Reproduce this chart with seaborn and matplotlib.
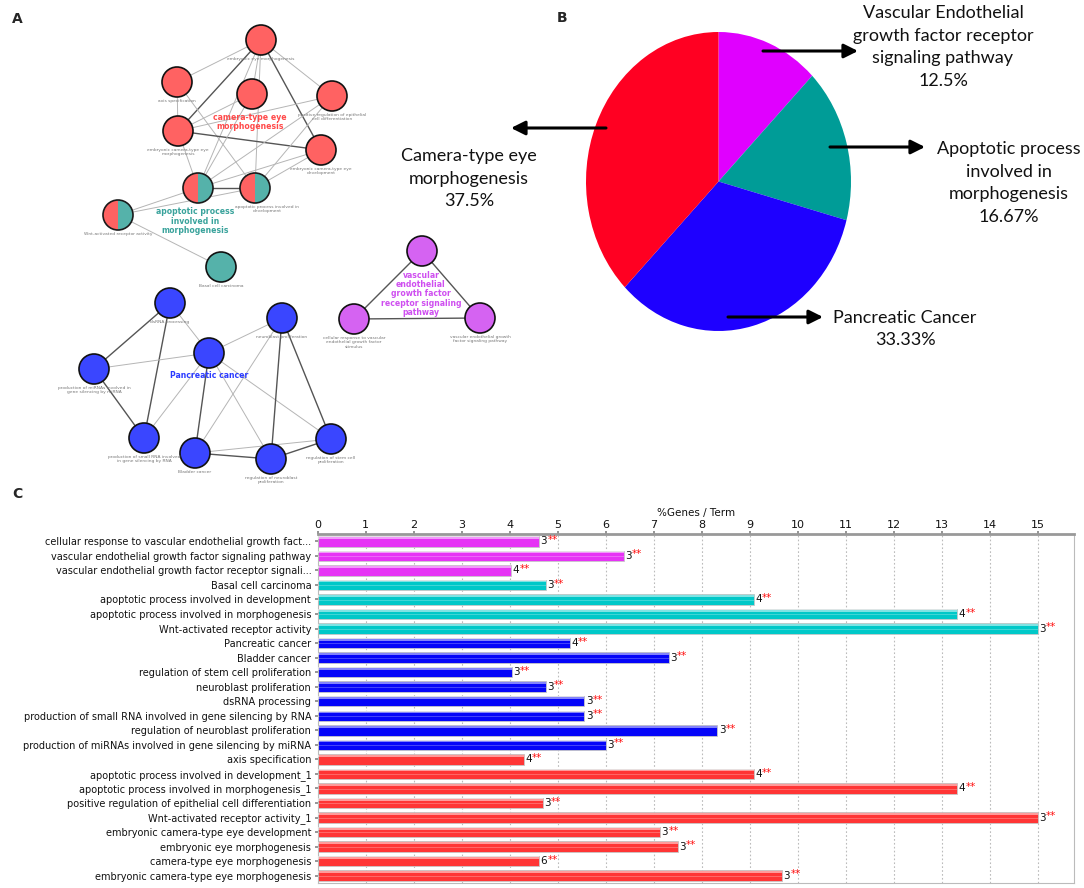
import numpy as np
import pandas as pd
import matplotlib
matplotlib.use("Agg")
import matplotlib.pyplot as plt
from matplotlib.patches import Circle, Wedge
import seaborn as sns

sns.set_theme(style="white")
plt.rcParams["font.family"] = ["DejaVu Sans"]

# ---------------- panel C: %genes / term ----------------
terms = [
    "cellular response to vascular endothelial growth fact...",
    "vascular endothelial growth factor signaling pathway",
    "vascular endothelial growth factor receptor signali...",
    "Basal cell carcinoma",
    "apoptotic process involved in development",
    "apoptotic process involved in morphogenesis",
    "Wnt-activated receptor activity",
    "Pancreatic cancer",
    "Bladder cancer",
    "regulation of stem cell proliferation",
    "neuroblast proliferation",
    "dsRNA processing",
    "production of small RNA involved in gene silencing by RNA",
    "regulation of neuroblast proliferation",
    "production of miRNAs involved in gene silencing by miRNA",
    "axis specification",
    "apoptotic process involved in development_1",
    "apoptotic process involved in morphogenesis_1",
    "positive regulation of epithelial cell differentiation",
    "Wnt-activated receptor activity_1",
    "embryonic camera-type eye development",
    "embryonic eye morphogenesis",
    "camera-type eye morphogenesis",
    "embryonic camera-type eye morphogenesis",
]
pct = [4.62, 6.38, 4.04, 4.76, 9.09, 13.33, 15.0, 5.26, 7.32, 4.05, 4.76, 5.56,
       5.56, 8.33, 6.0, 4.30, 9.09, 13.33, 4.69, 15.0, 7.14, 7.50, 4.62, 9.68]
genes = [3, 3, 4, 3, 4, 4, 3, 4, 3, 3, 3, 3, 3, 3, 3, 4, 4, 4, 3, 3, 3, 3, 6, 3]
groups = ["vegf"] * 3 + ["apop"] * 4 + ["panc"] * 8 + ["cam"] * 9
bar_colors = {"vegf": "#E633F5", "apop": "#00C8C8", "panc": "#0505F8", "cam": "#FF3535"}

# ---------------- panel B: pie ----------------
pie_names = ["vegf", "apop", "panc", "cam"]
pie_share = [12.5, 16.67, 33.33, 37.5]
pie_colors = ["#E000FF", "#009C97", "#1E00FF", "#FF0022"]

# ---------------- panel A: network (node layout, pixel units) ----------------
node_x = [261, 177, 252, 332, 178, 321, 198, 255, 118, 221,
          422, 354, 480, 170, 282, 209, 94, 144, 195, 271, 331]
node_y = [40, 82, 94, 96, 131, 150, 188, 188, 215, 267,
          251, 319, 318, 303, 318, 353, 369, 438, 453, 459, 439]
node_grp = ["cam", "cam", "cam", "cam", "cam", "cam", "split", "split", "split", "apop",
            "vegf", "vegf", "vegf", "panc", "panc", "panc", "panc", "panc", "panc", "panc", "panc"]
node_text = [
    "embryonic eye morphogenesis", "axis specification", "",
    "positive regulation of epithelial\ncell differentiation",
    "embryonic camera-type eye\nmorphogenesis",
    "embryonic camera-type eye\ndevelopment", "",
    "apoptotic process involved in\ndevelopment",
    "Wnt-activated receptor activity", "Basal cell carcinoma", "",
    "cellular response to vascular\nendothelial growth factor\nstimulus",
    "vascular endothelial growth\nfactor signaling pathway",
    "dsRNA processing", "neuroblast proliferation", "",
    "production of miRNAs involved in\ngene silencing by miRNA",
    "production of small RNA involved\nin gene silencing by RNA",
    "Bladder cancer", "regulation of neuroblast\nproliferation",
    "regulation of stem cell\nproliferation",
]
node_text_dx = [0, 0, 0, 0, 0, 0, 0, 12, 0, 0, 0, 0, 0, 0, 0, 0, 0, 0, 0, 0, 0]
edges = [(0, 1), (0, 4), (0, 2), (0, 3), (0, 5), (0, 6), (0, 7), (1, 4), (1, 7),
         (4, 5), (4, 3), (4, 2), (2, 6), (3, 6), (3, 7), (5, 6), (5, 7), (4, 6),
         (6, 7), (6, 8), (7, 8), (8, 9), (10, 11), (10, 12), (11, 12),
         (13, 16), (13, 17), (13, 15), (16, 15), (16, 17), (15, 17), (15, 18),
         (15, 19), (15, 20), (14, 15), (14, 18), (14, 19), (14, 20), (18, 19),
         (18, 20), (19, 20)]
edge_dark = [0, 1, 0, 0, 1, 0, 0, 0, 0, 1, 0, 0, 0, 0, 0, 0, 0, 0,
             1, 0, 0, 0, 1, 1, 1, 1, 1, 0, 0, 1, 0, 1, 0, 0, 0, 0, 1, 1, 1, 0, 1]
node_colors = {"cam": "#FF6262", "apop": "#55B2AA", "vegf": "#D563F2", "panc": "#3A46FF"}
cluster_labels = ["camera-type eye\nmorphogenesis",
                  "apoptotic process\ninvolved in\nmorphogenesis",
                  "vascular\nendothelial\ngrowth factor\nreceptor signaling\npathway",
                  "Pancreatic cancer"]
cluster_x = [250, 195, 421, 209]
cluster_y = [122, 221, 294, 375]
cluster_col = ["#FF4A4A", "#3AA39C", "#CF4FF0", "#2B3BFF"]

W, H = 1084, 888
fig = plt.figure(figsize=(W / 100, H / 100), dpi=100)


def box(l, t, r, b):
    return [l / W, 1 - b / H, (r - l) / W, (b - t) / H]


# ---- A
axa = fig.add_axes(box(0, 0, 540, 480))
axa.set_xlim(0, 540); axa.set_ylim(480, 0); axa.set_aspect("equal"); axa.axis("off")
for (a, b), d in zip(edges, edge_dark):
    axa.plot([node_x[a], node_x[b]], [node_y[a], node_y[b]],
             color="#555555" if d else "#B5B5B5", lw=1.0 if d else 0.7, zorder=1)
r = 15
for x, y, g, t, dx in zip(node_x, node_y, node_grp, node_text, node_text_dx):
    if g == "split":
        axa.add_patch(Wedge((x, y), r, 90, 270, facecolor=node_colors["cam"], lw=0, zorder=2))
        axa.add_patch(Wedge((x, y), r, 270, 90, facecolor=node_colors["apop"], lw=0, zorder=2))
        axa.add_patch(Circle((x, y), r, facecolor="none", edgecolor="#1a1a1a", lw=1.2, zorder=3))
    else:
        axa.add_patch(Circle((x, y), r, facecolor=node_colors[g], edgecolor="#111111",
                             lw=1.2, zorder=2))
    if t:
        axa.text(x + dx, y + r + 2, t, fontsize=3.2, color="#777777", ha="center", va="top",
                 linespacing=1.1, zorder=4)
for t, x, y, c in zip(cluster_labels, cluster_x, cluster_y, cluster_col):
    axa.text(x, y, t, fontsize=5.6, fontweight="bold", color=c, ha="center", va="center",
             linespacing=1.05, zorder=5)

# ---- B
axb = fig.add_axes(box(586, 32, 851, 331))
axb.pie(pie_share, colors=pie_colors, startangle=90, counterclock=False,
        wedgeprops=dict(linewidth=0))
axb.set_xlim(-1, 1); axb.set_ylim(-1, 1); axb.set_aspect("auto")

# ---- C
df = pd.DataFrame({"term": terms, "pct": pct, "genes": genes, "group": groups})
axc = fig.add_axes(box(317.5, 534, 1074, 883))
sns.barplot(data=df, x="pct", y="term", hue="group", order=terms, palette=bar_colors,
            dodge=False, legend=False, width=0.72, saturation=1, edgecolor="#C8C8C8",
            linewidth=0.6, ax=axc, zorder=2)
ypos = np.arange(len(terms))
axc.barh(ypos - 0.25, df.pct, height=0.16, left=0, color="white", alpha=0.5, lw=0, zorder=3)
axc.barh(ypos + 0.05, df.pct, height=0.05, left=0, color="white", alpha=0.25, lw=0, zorder=3)
for i, (v, g) in enumerate(zip(df.pct, df.genes)):
    axc.annotate(str(g), xy=(v, i), xytext=(1, 0), textcoords="offset points",
                 ha="left", va="center", fontsize=7.5, color="#111111")
    axc.annotate("**", xy=(v, i), xytext=(5.9, 1), textcoords="offset points",
                 ha="left", va="center", fontsize=7.5, color="#FF1010")
axc.set_xlim(0, 15.76); axc.set_ylim(23.5, -0.5)
axc.set_xticks(range(16))
axc.xaxis.tick_top(); axc.xaxis.set_label_position("top")
axc.set_xlabel("%Genes / Term", fontsize=7.5, labelpad=3, color="#111111")
axc.set_ylabel("")
axc.tick_params(axis="x", labelsize=8, length=2, color="#888888", pad=1, labelcolor="#111111")
axc.tick_params(axis="y", labelsize=7.0, length=2.5, color="#888888", pad=2, left=True,
                labelcolor="#111111")
axc.grid(axis="x", color="#BBBBBB", ls=(0, (1.5, 2)), lw=0.8, zorder=0)
for side, sp in axc.spines.items():
    sp.set_color("#BBBBBB"); sp.set_linewidth(0.8); sp.set_visible(True)
axc.spines["top"].set_color("#999999"); axc.spines["top"].set_linewidth(2)

# ---- overlay text / arrows
ov = fig.add_axes([0, 0, 1, 1], zorder=10)
ov.set_xlim(0, W); ov.set_ylim(H, 0); ov.axis("off")
for t, x, y in [("A", 12, 19), ("B", 557, 18), ("C", 12, 494)]:
    ov.text(x, y, t, fontsize=10, fontweight="bold", ha="left", va="center")
arrows = [((763, 51), (858, 51)), ((830, 147), (925, 147)),
          ((728, 317), (823, 317)), ((606, 128), (511, 128))]
for (x0, y0), (x1, y1) in arrows:
    ov.annotate("", xy=(x1, y1), xytext=(x0, y0),
                arrowprops=dict(arrowstyle="-|>,head_length=0.7,head_width=0.35",
                                lw=2.2, color="black", shrinkA=0, shrinkB=0))
pie_labels = [("Vascular Endothelial\ngrowth factor receptor\nsignaling pathway\n12.5%", 943, 47),
              ("Apoptotic process\ninvolved in\nmorphogenesis\n16.67%", 1009, 183),
              ("Pancreatic Cancer\n33.33%", 905, 329),
              ("Camera-type eye\nmorphogenesis\n37.5%", 469, 179)]
for t, x, y in pie_labels:
    ov.text(x, y, t, fontsize=13, family="Lato", ha="center", va="center",
            linespacing=1.5, color="#111111")

fig.savefig("out.png", dpi=100)
